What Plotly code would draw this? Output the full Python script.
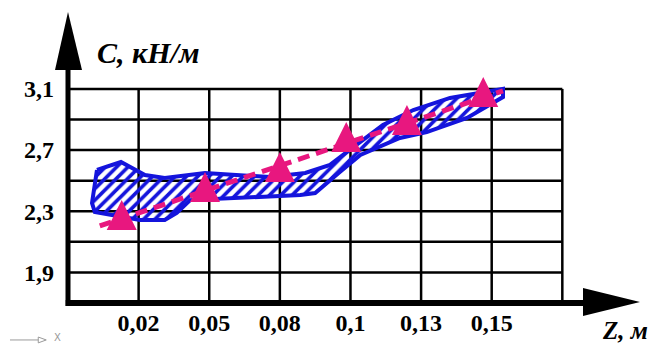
import plotly.graph_objects as go

# ---- axis ticks / grid (Z axis uses evenly spaced index positions) ----
z_labels = ["0,02", "0,05", "0,08", "0,1", "0,13", "0,15"]
z_pos = [1, 2, 3, 4, 5, 6]
grid_x = [1, 2, 3, 4, 5, 6, 7]
c_ticks = [1.9, 2.3, 2.7, 3.1]
c_labels = ["1,9", "2,3", "2,7", "3,1"]
grid_c = [1.9, 2.1, 2.3, 2.5, 2.7, 2.9, 3.1]
x_min, x_max = 0.0, 8.10
c_min, c_max = 1.7, 3.603

# ---- measured points (position on Z index axis, C in kN/m) ----
pt_x = [0.76, 1.94, 3.00, 3.94, 4.80, 5.88]
pt_c = [2.276, 2.459, 2.589, 2.786, 2.897, 3.080]

# ---- trend line ----
trend_x = [0.45, 6.16]
trend_c = [2.204, 3.087]

# ---- scatter band (upper edge left->right, lower edge right->left) ----
band_upper_x = [0.41, 0.75, 1.09, 1.37, 1.94, 2.44, 2.86, 3.36, 3.71, 3.99, 4.46, 4.89, 5.41, 6.16]
band_upper_c = [2.570, 2.622, 2.537, 2.518, 2.550, 2.537, 2.524, 2.550, 2.603, 2.701, 2.864, 2.962, 3.041, 3.100]
band_lower_x = [6.16, 5.65, 5.08, 4.70, 4.14, 3.85, 3.50, 3.29, 2.58, 1.73, 1.54, 1.37, 1.02, 0.38, 0.34, 0.38]
band_lower_c = [3.047, 2.910, 2.818, 2.779, 2.668, 2.557, 2.419, 2.406, 2.393, 2.373, 2.289, 2.243, 2.243, 2.295, 2.354, 2.485]

BLUE = "#1414dc"
PINK = "#e8177f"
SERIF = "Liberation Serif"

fig = go.Figure()

band_x = band_upper_x + band_lower_x + [band_upper_x[0]]
band_c = band_upper_c + band_lower_c + [band_upper_c[0]]
fig.add_trace(go.Scatter(
    x=band_x, y=band_c, mode="lines", fill="toself",
    fillcolor="rgba(0,0,0,0)",
    fillpattern=dict(shape="/", fgcolor=BLUE, fgopacity=1, bgcolor="rgba(0,0,0,0)",
                     size=8, solidity=0.45),
    line=dict(color=BLUE, width=4), hoverinfo="skip", showlegend=False))

fig.add_trace(go.Scatter(
    x=trend_x, y=trend_c, mode="lines",
    line=dict(color=PINK, width=5, dash="12px,7px"), showlegend=False))

fig.add_trace(go.Scatter(
    x=pt_x, y=pt_c, mode="markers",
    marker=dict(symbol="arrow-down", angle=180, size=30, color=PINK, standoff=15,
                line=dict(width=0)),
    showlegend=False))

shapes = []
for gx in grid_x:
    shapes.append(dict(type="line", xref="x", yref="y", x0=gx, x1=gx, y0=c_min, y1=grid_c[-1],
                       line=dict(color="black", width=2.5), layer="below"))
for gc in grid_c:
    shapes.append(dict(type="line", xref="x", yref="y", x0=x_min, x1=grid_x[-1], y0=gc, y1=gc,
                       line=dict(color="black", width=2.5), layer="below"))

# axes with arrows
shapes += [
    dict(type="line", xref="paper", yref="paper", x0=0, x1=0, y0=-0.01, y1=0.82,
         line=dict(color="black", width=5)),
    dict(type="path", xref="paper", yref="paper",
         path="M -0.0227 0.8007 L 0 1.0 L 0.0245 0.8007 Z", fillcolor="black", line=dict(width=0)),
    dict(type="line", xref="paper", yref="paper", x0=-0.004, x1=0.92, y0=0, y1=0,
         line=dict(color="black", width=6)),
    dict(type="path", xref="paper", yref="paper",
         path="M 0.9003 0.0515 L 1.0 0.0034 L 0.9003 -0.0447 Z", fillcolor="black", line=dict(width=0)),
    # small UCS icon
    dict(type="line", xref="paper", yref="paper", x0=-0.1014, x1=-0.040, y0=-0.127, y1=-0.127,
         line=dict(color="#9a9a9a", width=1)),
    dict(type="path", xref="paper", yref="paper",
         path="M -0.052 -0.117 L -0.038 -0.127 L -0.052 -0.137 Z", fillcolor="white",
         line=dict(color="#9a9a9a", width=1)),
]

annotations = [
    dict(text="C, кН/м", xref="paper", yref="paper", x=0.048, y=0.862, xanchor="left", yanchor="middle",
         showarrow=False, font=dict(family=SERIF, size=30, color="black", weight="bold", style="italic")),
    dict(text="Z, м", xref="paper", yref="paper", x=0.974, y=-0.093, xanchor="center", yanchor="middle",
         showarrow=False, font=dict(family=SERIF, size=25, color="black", weight="bold", style="italic")),
    dict(text="X", xref="paper", yref="paper", x=-0.019, y=-0.118, xanchor="center", yanchor="middle",
         showarrow=False, font=dict(family="DejaVu Sans", size=10, color="#9a9a9a")),
]

# page body has an 8px margin, so the figure is 8px smaller and shifted
fig.update_layout(
    width=648, height=337,
    margin=dict(l=60, r=16, t=4, b=42),
    paper_bgcolor="white", plot_bgcolor="white",
    shapes=shapes, annotations=annotations,
    xaxis=dict(range=[x_min, x_max], tickvals=z_pos, ticktext=z_labels, showgrid=False,
               zeroline=False, showline=False, ticks="", ticklabelstandoff=3,
               tickfont=dict(family=SERIF, size=24, color="black", weight="bold")),
    yaxis=dict(range=[c_min, c_max], tickvals=c_ticks, ticktext=c_labels, showgrid=False,
               zeroline=False, showline=False, ticks="", ticklabelstandoff=13,
               tickfont=dict(family=SERIF, size=24, color="black", weight="bold")),
)

fig.write_html("out.html")
